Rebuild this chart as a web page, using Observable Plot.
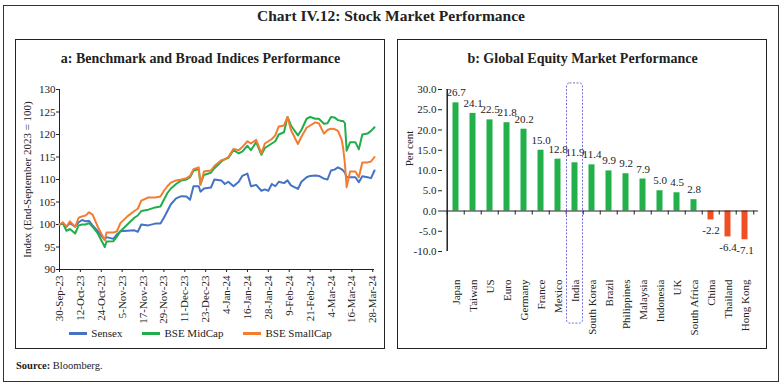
<!DOCTYPE html>
<html>
<head>
<meta charset="utf-8">
<script src="https://cdn.jsdelivr.net/npm/d3@7"></script>
<script src="https://cdn.jsdelivr.net/npm/@observablehq/plot@0.6"></script>
<style>
  html, body { margin: 0; padding: 0; background: #fff; }
  body { width: 782px; height: 386px; position: relative; font-family: "Liberation Serif", serif; color: #222; overflow: hidden; }
  .abs { position: absolute; }
  #outer { left: 3px; top: 5px; width: 774px; height: 375px; border: 1px solid #333; }
  .panel { top: 39px; height: 308px; border: 1.5px solid #222; }
  #title { left: 0; top: 7px; width: 782px; text-align: center; font-weight: bold; font-size: 15.5px; }
  .ptitle { top: 51px; width: 369px; text-align: center; font-weight: bold; font-size: 14px; }
  #legend { left: 16px; top: 327px; width: 369px; display: flex; justify-content: center; align-items: center; font-size: 11px; gap: 20px; }
  .item { display: flex; align-items: center; }
  .sw { width: 18px; height: 3px; margin-right: 4px; }
  #source { left: 16px; top: 360px; font-size: 10.5px; }
</style>
</head>
<body>
<div id="outer" class="abs"></div>
<div id="title" class="abs">Chart IV.12: Stock Market Performance</div>
<div class="abs panel" style="left:15px;width:368px;"></div>
<div class="abs panel" style="left:397px;width:368px;"></div>
<div class="abs ptitle" style="left:16px;">a: Benchmark and Broad Indices Performance</div>
<div class="abs ptitle" style="left:398px;">b: Global Equity Market Performance</div>
<div id="chartA" class="abs" style="left:16px;top:75px;"></div>
<div id="chartB" class="abs" style="left:398px;top:75px;"></div>
<div id="legend" class="abs"></div>
<div id="source" class="abs"><b>Source:</b> Bloomberg.</div>
<script>
// ---------- Panel a data ----------
const dates = [
  "2023-09-30","2023-10-02","2023-10-04","2023-10-06","2023-10-09","2023-10-11","2023-10-13","2023-10-15",
  "2023-10-17","2023-10-19","2023-10-22","2023-10-24","2023-10-26","2023-10-27","2023-10-31","2023-11-02",
  "2023-11-04","2023-11-08","2023-11-12","2023-11-14","2023-11-16","2023-11-20","2023-11-24","2023-11-27",
  "2023-11-29","2023-12-01","2023-12-03","2023-12-06","2023-12-09","2023-12-12","2023-12-14","2023-12-16",
  "2023-12-19","2023-12-20","2023-12-22","2023-12-26","2023-12-28","2024-01-01","2024-01-03","2024-01-05",
  "2024-01-08","2024-01-11","2024-01-13","2024-01-16","2024-01-18","2024-01-21","2024-01-24","2024-01-26",
  "2024-01-28","2024-01-30","2024-02-01","2024-02-03","2024-02-06","2024-02-08","2024-02-10","2024-02-14",
  "2024-02-16","2024-02-19","2024-02-21","2024-02-24","2024-02-26","2024-02-29","2024-03-02","2024-03-04",
  "2024-03-06","2024-03-08","2024-03-10","2024-03-11","2024-03-12","2024-03-13","2024-03-15","2024-03-18",
  "2024-03-20","2024-03-22","2024-03-25","2024-03-27","2024-03-29"
];
const sensex = [
  100.0,100.2,99.5,100.3,99.5,100.5,101.0,100.7,
  100.8,99.8,98.5,97.5,96.6,97.2,96.8,97.8,
  98.5,98.6,98.7,98.4,100.0,99.8,100.2,100.2,
  101.5,103.0,104.5,105.8,106.3,106.2,105.5,108.5,
  108.5,107.3,108.0,108.2,110.0,109.8,109.0,109.5,
  108.5,109.5,110.8,111.3,108.5,108.8,107.5,107.8,
  107.5,109.0,108.5,109.5,109.2,109.8,108.7,107.9,
  109.5,110.5,110.8,110.9,110.8,110.2,110.0,112.0,
  112.2,112.7,112.3,112.0,111.5,110.5,110.5,110.5,
  109.4,110.7,110.5,110.3,112.0
];
const midcap = [
  100.0,100.2,98.6,99.0,98.0,99.8,100.0,100.0,
  100.3,99.5,98.0,96.5,95.0,96.2,96.3,97.3,
  98.5,100.0,101.5,102.0,103.0,103.3,103.8,104.0,
  105.5,107.0,108.0,109.0,109.8,110.0,110.5,112.0,
  112.3,109.0,111.0,111.5,112.5,114.0,114.5,114.8,
  116.5,115.8,116.2,117.5,116.5,118.3,115.5,117.0,
  117.5,118.0,118.5,120.0,120.5,123.9,122.0,119.8,
  121.0,123.5,123.9,123.5,123.5,122.4,122.5,123.9,
  123.8,123.2,123.0,123.0,122.5,116.4,118.3,118.3,
  116.7,120.0,120.2,120.8,121.6
];
const smallcap = [
  100.0,100.5,99.5,100.7,99.5,101.5,101.8,102.0,
  102.7,102.2,99.5,98.0,96.5,98.2,98.2,98.5,
  100.3,101.8,103.0,103.5,105.3,106.0,106.0,106.2,
  107.5,108.5,109.3,109.8,110.0,110.3,110.8,112.3,
  112.7,108.8,111.8,112.0,113.0,114.3,114.5,115.0,
  116.8,116.5,117.2,118.5,118.0,118.8,115.8,118.0,
  118.5,119.0,119.8,121.8,122.0,123.9,121.0,117.9,
  119.5,121.5,122.0,122.7,122.5,120.2,121.0,121.3,
  121.2,120.8,119.0,117.0,113.5,108.3,111.8,111.8,
  110.5,113.8,113.8,114.0,115.0
];
const seriesNames = ["Sensex", "BSE MidCap", "BSE SmallCap"];
const seriesColors = ["#4472c4", "#22ad4b", "#f47c30"];
const xTicksA = ["2023-09-30","2023-10-12","2023-10-24","2023-11-05","2023-11-17","2023-11-29","2023-12-11","2023-12-23",
  "2024-01-04","2024-01-16","2024-01-28","2024-02-09","2024-02-21","2024-03-04","2024-03-16","2024-03-28"];
const yTicksA = [90, 95, 100, 105, 110, 115, 120, 125, 130];
const yLabelA = "Index (End-September 2023 = 100)";

// ---------- Panel b data ----------
const countries = ["Japan","Taiwan","US","Euro","Germany","France","Mexico","India","South Korea","Brazil",
  "Philippines","Malaysia","Indonesia","UK","South Africa","China","Thailand","Hong Kong"];
const returns = [26.7,24.1,22.5,21.8,20.2,15.0,12.8,11.9,11.4,9.9,9.2,7.9,5.0,4.5,2.8,-2.2,-6.4,-7.1];
const yTicksB = [-10, -5, 0, 5, 10, 15, 20, 25, 30];
const yLabelB = "Per cent";
const highlight = "India";

// ---------- Panel a ----------
const allSeries = [sensex, midcap, smallcap];
const table = dates.flatMap((d, i) => seriesNames.map((s, k) => ({date: new Date(d), value: allSeries[k][i], series: s})));
const fmtDate = d3.utcFormat("%-d-%b-%y");
const xTickDates = xTicksA.map(d => new Date(d));

const chartA = Plot.plot({
  width: 369, height: 255,
  marginLeft: 43, marginRight: 11, marginTop: 14, marginBottom: 61,
  style: {fontFamily: "Liberation Serif, serif", fontSize: "11px", color: "#222", background: "transparent", overflow: "visible"},
  x: {type: "utc", domain: [new Date(dates[0]), new Date(dates[dates.length - 1])]},
  y: {domain: [90, 130]},
  color: {domain: seriesNames, range: seriesColors},
  marks: [
    Plot.ruleY([90], {stroke: "#222"}),
    Plot.ruleX([new Date(dates[0])], {stroke: "#222"}),
    Plot.axisY({ticks: yTicksA, tickSize: 3, tickPadding: 1, label: null}),
    Plot.axisX({ticks: xTickDates, tickFormat: fmtDate, tickRotate: -90, tickSize: 3, tickPadding: 3, label: null}),
    Plot.lineY(table, {x: "date", y: "value", stroke: "series", strokeWidth: 2}),
    Plot.text([yLabelA], {x: null, y: null, text: d => d, frameAnchor: "left", textAnchor: "middle", dx: -32, rotate: -90, fontSize: 11, fill: "#222"})
  ]
});
document.getElementById("chartA").append(chartA);

const legend = document.getElementById("legend");
seriesNames.forEach((s, i) => {
  const it = document.createElement("div");
  it.className = "item";
  it.innerHTML = `<span class="sw" style="background:${seriesColors[i]}"></span><span>${s}</span>`;
  legend.append(it);
});

// ---------- Panel b ----------
const bars = countries.map((c, i) => ({country: c, value: returns[i]}));
const wB = 369, mlB = 44, mrB = 9;
const step = (wB - mlB - mrB) / countries.length;

const chartB = Plot.plot({
  width: wB, height: 255,
  marginLeft: mlB, marginRight: mrB, marginTop: 14, marginBottom: 79,
  style: {fontFamily: "Liberation Serif, serif", fontSize: "11px", color: "#222", background: "transparent", overflow: "visible"},
  x: {domain: countries, padding: 0},
  y: {domain: [-10, 30]},
  marks: [
    Plot.barY(bars, {x: "country", y: "value", fill: d => d.value >= 0 ? "#22b04b" : "#f04e23", insetLeft: 5.5, insetRight: 5.5}),
    Plot.ruleY([0], {stroke: "#222"}),
    Plot.ruleX(countries, {x: d => d, dx: -step / 2, y1: 0, y2: -1, stroke: "#222"}),
    Plot.ruleX([countries[countries.length - 1]], {x: d => d, dx: step / 2, y1: 0, y2: -1, stroke: "#222"}),
    Plot.ruleX([countries[0]], {x: d => d, dx: -step / 2, stroke: "#222", strokeWidth: 1.5}),
    Plot.axisY({ticks: yTicksB, tickFormat: d => d.toFixed(1), tickSize: 4, tickPadding: 2, label: null}),
    Plot.axisX({tickSize: 0, tickRotate: -90, tickPadding: 28, label: null}),
    Plot.text(bars.filter(d => d.value >= 0), {x: "country", y: "value", text: d => d.value.toFixed(1), dy: -10, fill: "#222"}),
    Plot.text(bars.filter(d => d.value < 0), {x: "country", y: "value", text: d => d.value.toFixed(1), dy: 11, fill: "#222"}),
    Plot.barY([highlight], {x: d => d, y1: -27.8, y2: 31.5, fill: "none", stroke: "#6a5fd0", strokeWidth: 0.9, strokeDasharray: "2,1.5", rx: 3, insetLeft: 0.5, insetRight: 0.5}),
    Plot.text([yLabelB], {x: null, y: null, text: d => d, frameAnchor: "left", textAnchor: "middle", dx: -33, dy: -22, rotate: -90, fontSize: 11, fill: "#222"})
  ]
});
document.getElementById("chartB").append(chartB);
</script>
</body>
</html>
